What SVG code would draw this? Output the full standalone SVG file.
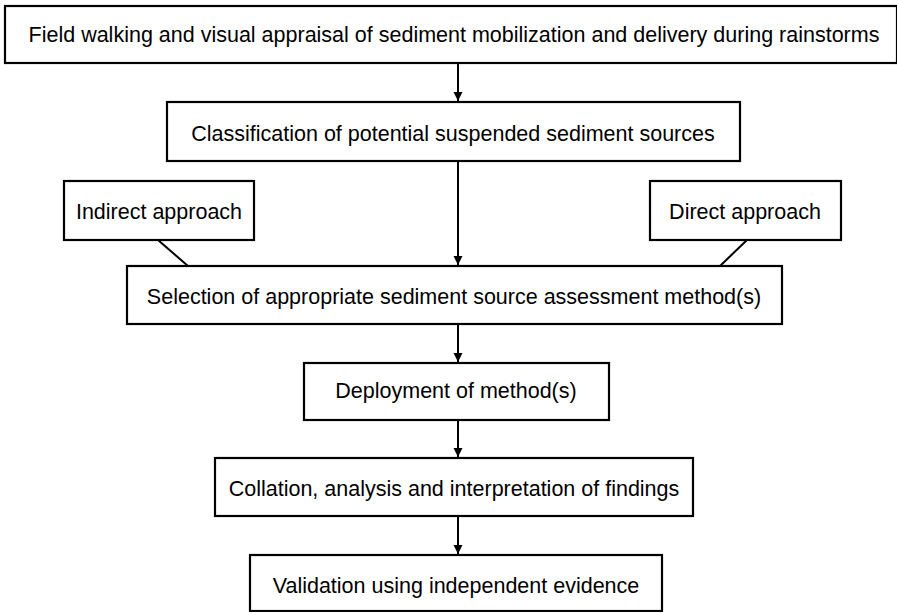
<svg xmlns="http://www.w3.org/2000/svg" width="897" height="612" viewBox="0 0 897 612">
<style>
.box{fill:#fff;stroke:#000;stroke-width:2.2}
.t{font-family:"Liberation Sans",Arial,sans-serif;font-size:21.5px;fill:#000;text-anchor:middle}
.c{stroke:#000;stroke-width:2;fill:none}
</style>
<defs>
<marker id="ah" viewBox="0 0 10 10" refX="10" refY="5" markerWidth="9" markerHeight="10" markerUnits="userSpaceOnUse" orient="auto">
<path d="M0,0 L10,5 L0,10 z" fill="#000"/>
</marker>
</defs>
<rect width="897" height="612" fill="#fff"/>
<g id="connectors">
<line class="c" x1="458" y1="63" x2="458" y2="101" marker-end="url(#ah)"/>
<line class="c" x1="458" y1="161" x2="458" y2="265" marker-end="url(#ah)"/>
<line class="c" x1="158" y1="240" x2="188" y2="266"/>
<line class="c" x1="747" y1="240" x2="720" y2="266"/>
<line class="c" x1="458" y1="324" x2="458" y2="362" marker-end="url(#ah)"/>
<line class="c" x1="458" y1="420" x2="458" y2="457" marker-end="url(#ah)"/>
<line class="c" x1="458" y1="516" x2="458" y2="554" marker-end="url(#ah)"/>
</g>
<g id="n1"><rect class="box" x="5" y="6" width="892" height="57"/><text class="t" x="454" y="42">Field walking and visual appraisal of sediment mobilization and delivery during rainstorms</text></g>
<g id="n2"><rect class="box" x="167" y="102" width="573" height="59"/><text class="t" x="453" y="141">Classification of potential suspended sediment sources</text></g>
<g id="n3"><rect class="box" x="64" y="181" width="190" height="59"/><text class="t" x="159" y="219">Indirect approach</text></g>
<g id="n4"><rect class="box" x="650" y="181" width="191" height="59"/><text class="t" x="745" y="219">Direct approach</text></g>
<g id="n5"><rect class="box" x="127" y="266" width="655" height="58"/><text class="t" x="454" y="304">Selection of appropriate sediment source assessment method(s)</text></g>
<g id="n6"><rect class="box" x="304" y="363" width="305" height="57"/><text class="t" x="456" y="398">Deployment of method(s)</text></g>
<g id="n7"><rect class="box" x="215" y="458" width="478" height="58"/><text class="t" x="454" y="496">Collation, analysis and interpretation of findings</text></g>
<g id="n8"><rect class="box" x="250" y="555" width="412" height="56"/><text class="t" x="456" y="593">Validation using independent evidence</text></g>
</svg>
